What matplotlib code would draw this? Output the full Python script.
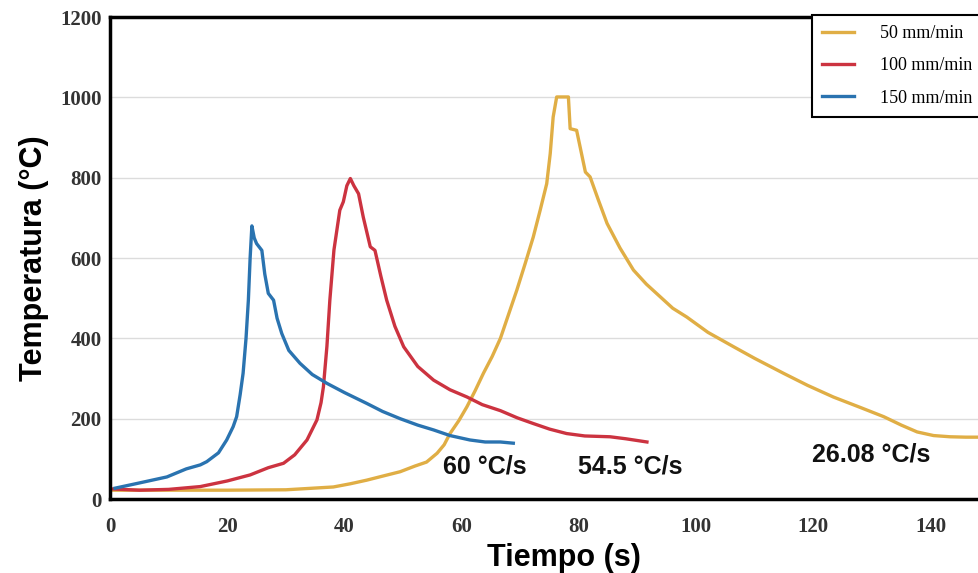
import matplotlib.pyplot as plt

# time (s) / temperature (C)
t_50 = [0.5, 10, 20, 30, 38.1, 41, 43.8, 46.5, 49.5, 52, 54, 55.8, 57, 58, 59.5, 60.9,
        62.3, 63.7, 65.2, 66.6, 68, 69.4, 70.8, 72.2, 73.4, 74.5, 75.1, 75.6, 76.2,
        78.2, 78.5, 79.6, 81.1, 81.9, 83.3, 84.8, 87, 89.3, 91.5, 93.9, 96, 98.4, 102,
        106.4, 110, 114.9, 119, 123.4, 128, 132, 135, 137.7, 140.5, 143.3, 146, 150]
T_50 = [22, 22, 22, 23, 30, 38, 47, 57, 68, 82, 92, 114, 135, 163, 195, 230,
        270, 313, 355, 400, 460, 520, 585, 652, 720, 785, 860, 951, 1001,
        1001, 922, 918, 814, 802, 745, 686, 625, 570, 535, 503, 475, 453, 415,
        379, 350, 313, 283, 254, 228, 205, 184, 167, 158, 155, 154, 154]

t_100 = [0.5, 5, 10, 15.4, 20, 23.9, 27, 29.6, 31.5, 33.6, 35.3, 36, 36.4, 37.0, 37.5,
         38.2, 39.2, 39.8, 40.4, 41.0, 41.6, 42.4, 43.2, 44.4, 45.2, 46.2, 47.2, 48.6,
         50.1, 52.5, 55.2, 58, 60.9, 63.5, 66.6, 69.5, 72.2, 75, 77.9, 81, 85.3, 88, 91.6]
T_100 = [25, 22, 24, 31, 45, 60, 78, 89, 110, 147, 197, 240, 279, 380, 495,
         620, 719, 740, 780, 798, 780, 760, 702, 628, 619, 555, 495, 430,
         379, 330, 296, 272, 254, 235, 220, 202, 188, 174, 163, 157, 155, 150, 142]

t_150 = [0.85, 5, 9.7, 13, 15.4, 16.5, 18.5, 19.9, 21.0, 21.6, 22.2, 22.7, 23.2, 23.6,
         23.9, 24.2, 24.6, 25.0, 25.9, 26.4, 27.0, 27.9, 28.5, 29.3, 30.5, 32.4, 34.5,
         37.0, 40, 43.8, 46.5, 49.5, 52.5, 55.2, 58, 61.4, 64, 66.6, 68.8]
T_150 = [27, 40, 55, 75, 85, 93, 115, 147, 180, 205, 260, 313, 400, 495,
         600, 680, 650, 636, 619, 560, 512, 495, 450, 412, 370, 338, 310,
         288, 265, 238, 218, 200, 184, 172, 158, 147, 142, 142, 139]

series = [
    ("50 mm/min", t_50, T_50, "#E0AE45"),
    ("100 mm/min", t_100, T_100, "#CC3340"),
    ("150 mm/min", t_150, T_150, "#2A73B0"),
]

rates = ["60 °C/s", "54.5 °C/s", "26.08 °C/s"]
rate_pos = [(56.8, 82), (79.9, 82), (119.8, 110)]

fig = plt.figure(figsize=(9.79, 5.73), dpi=100)
ax = fig.add_axes([0.1124, 0.1291, 0.928, 0.8412])

for label, t, T, c in series:
    ax.plot(t, T, color=c, lw=2.4, label=label, solid_joinstyle="round")

ax.set_xlim(0, 155)
ax.set_ylim(0, 1200)
ax.set_xticks(range(0, 141, 20))
ax.set_yticks(range(0, 1201, 200))
ax.grid(axis="y", color="#dcdcdc", lw=1)
ax.set_axisbelow(True)

for s in ["left", "bottom", "top"]:
    ax.spines[s].set_linewidth(2.5)
    ax.spines[s].set_color("black")
ax.spines["right"].set_visible(False)

ax.tick_params(length=0, labelsize=15, colors="#333333")
ax.tick_params(axis="x", pad=13)
ax.tick_params(axis="y", pad=6)
for lbl in ax.get_xticklabels() + ax.get_yticklabels():
    lbl.set_fontfamily("Liberation Serif")
    lbl.set_fontweight("bold")

ax.set_xlabel("Tiempo (s)", fontsize=22, fontweight="bold", family="Liberation Sans", labelpad=4)
ax.set_ylabel("Temperatura (°C)", fontsize=22, fontweight="bold", family="Liberation Sans", labelpad=8)

for txt, (x, y) in zip(rates, rate_pos):
    ax.text(x, y, txt, fontsize=18, fontweight="bold", family="Liberation Sans",
            ha="left", va="center", color="#111111")

# legend sits partly outside the figure, like the cropped original
leg = ax.legend(
    bbox_to_anchor=(812 / 979, 1 - 15 / 573),
    bbox_transform=fig.transFigure,
    loc="upper left",
    borderaxespad=0.,
    fancybox=False,
    edgecolor="black",
    framealpha=1,
    prop={"family": "Liberation Serif", "size": 13},
    handlelength=1.8,
    handletextpad=1.4,
    labelspacing=0.85,
    borderpad=0.55,
)
leg.get_frame().set_linewidth(1.5)

fig.savefig("out.png", dpi=100)
